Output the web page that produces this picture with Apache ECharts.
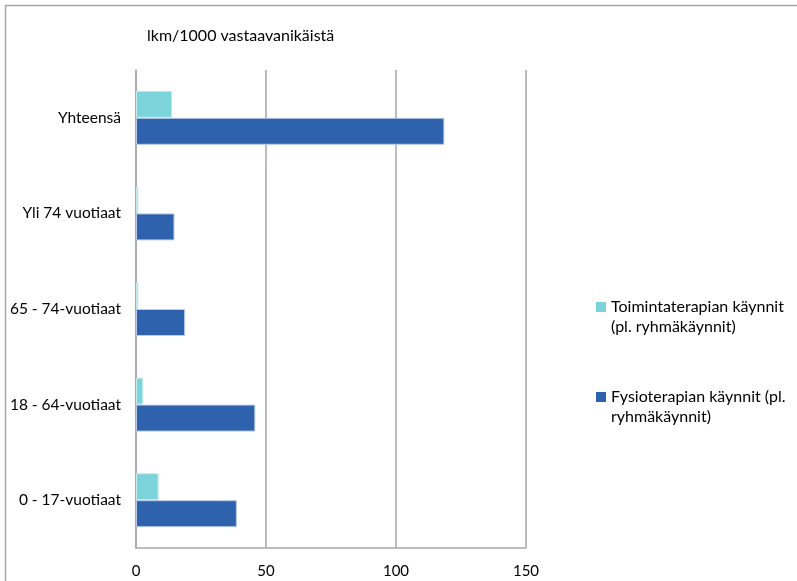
<!DOCTYPE html>
<html>
<head>
<meta charset="utf-8">
<script src="https://cdn.jsdelivr.net/npm/echarts@6/dist/echarts.min.js"></script>
<style>
  html, body { margin: 0; padding: 0; background: #fff; }
  #chart { width: 797px; height: 581px; }
</style>
</head>
<body>
<div id="chart"></div>
<script>
// Age groups, bottom to top
const categories = ['0 - 17-vuotiaat', '18 - 64-vuotiaat', '65 - 74-vuotiaat', 'Yli 74 vuotiaat', 'Yhteensä'];
// Visits per 1000 inhabitants of the same age
const toimintaterapia = [8.7, 2.8, 0.9, 0.9, 13.9];
const fysioterapia = [38.8, 45.9, 18.9, 14.8, 118.6];
const xTicks = [0, 50, 100, 150];

const seriesNames = ['Toimintaterapian käynnit\n(pl. ryhmäkäynnit)', 'Fysioterapian käynnit (pl.\nryhmäkäynnit)'];
const FONT = 'Lato';
// Square marker sitting at the top of a taller box, so it lines up with the first text line
const legendIcon = 'path://M0,0L10,0L10,10L0,10Z M0,30L10,30L10,30L0,30Z';

const chart = echarts.init(document.getElementById('chart'), null, { renderer: 'canvas' });
chart.setOption({
  animation: false,
  backgroundColor: '#fff',
  textStyle: { fontFamily: FONT },
  graphic: [
    { type: 'rect', shape: { x: 5.5, y: 5.5, width: 900, height: 700 }, style: { fill: 'none', stroke: '#a6a6a6', lineWidth: 1.5 }, silent: true },
    { type: 'text', left: 147, top: 28, style: { text: 'lkm/1000 vastaavanikäistä', font: '16px ' + FONT, fill: '#000' } }
  ],
  grid: { left: 136, right: 271, top: 70, bottom: 33, containLabel: false },
  legend: {
    orient: 'vertical',
    left: 596,
    top: 297,
    padding: 0,
    itemWidth: 10,
    itemHeight: 30,
    itemGap: 50,
    icon: legendIcon,
    itemStyle: { borderWidth: 0 },
    textStyle: { fontFamily: FONT, fontSize: 16, color: '#000', lineHeight: 20 },
    data: seriesNames
  },
  xAxis: {
    type: 'value',
    min: 0, max: 150, interval: 50,
    axisLine: { show: true, lineStyle: { color: '#a6a6a6', width: 1.5 } },
    axisTick: { show: false },
    axisLabel: { fontFamily: FONT, fontSize: 15, color: '#000', margin: 16,
      formatter: v => xTicks.includes(v) ? String(v) : '' },
    splitLine: { show: true, lineStyle: { color: '#a6a6a6', width: 1.5 } }
  },
  yAxis: {
    type: 'category',
    data: categories,
    axisLine: { show: true, lineStyle: { color: '#a6a6a6', width: 1.5 } },
    axisTick: { show: false },
    axisLabel: { fontFamily: FONT, fontSize: 15.5, color: '#000', margin: 15 }
  },
  series: [
    {
      name: seriesNames[0], type: 'bar', data: toimintaterapia,
      barWidth: 27, barGap: '0%',
      itemStyle: { color: '#7dd3da', borderColor: '#c6ecef', borderWidth: 1 }
    },
    {
      name: seriesNames[1], type: 'bar', data: fysioterapia,
      barWidth: 27, barGap: '0%',
      itemStyle: { color: '#2e62ad', borderColor: '#b9cbe8', borderWidth: 1 }
    }
  ]
});
</script>
</body>
</html>
